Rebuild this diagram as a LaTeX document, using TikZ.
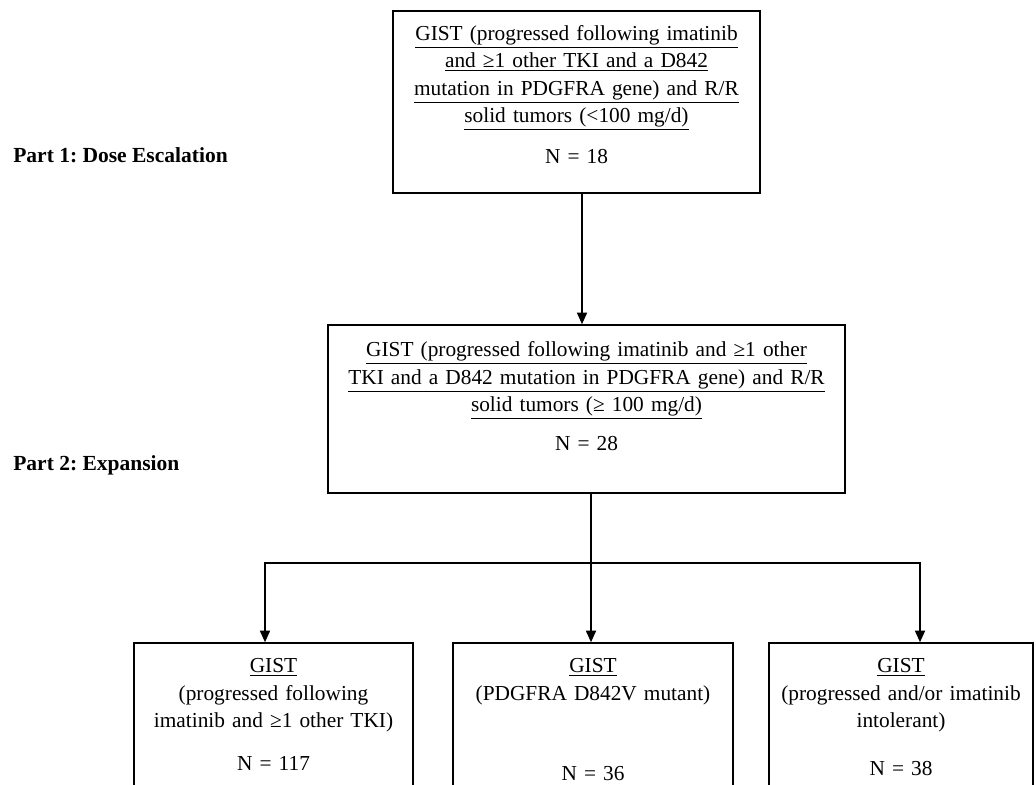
\documentclass[tikz,border=0pt]{standalone}
\usepackage{fontspec}
\setmainfont{Liberation Serif}
\usetikzlibrary{arrows.meta}
\tikzset{>=Stealth}
\frenchspacing

\begin{document}
\begin{tikzpicture}[
    x=0.6pt, y=-0.6pt,
    every node/.style={font=\fontsize{12.8pt}{16.5pt}\selectfont},
    panel/.style={draw, line width=0.9pt, inner sep=0pt},
    boxtext/.style={anchor=north, align=center, inner sep=0pt, text width=300pt},
    part/.style={anchor=west, inner sep=0pt, font=\fontsize{12.9pt}{14pt}\selectfont\bfseries},
    arrow/.style={line width=1.1pt, -{Triangle[width=6pt,length=7pt]}}
  ]
    \clip (0,0) rectangle (1036,784);

    % section labels
    \node[part] (partone) at (13,155) {Part 1: Dose Escalation};
    \node[part] (parttwo) at (13,465) {Part 2: Expansion};

    % boxes
    \node[panel, minimum width=220.2pt, minimum height=109.2pt] (doseesc) at (576.5,102) {};
    \node[panel, minimum width=310.2pt, minimum height=100.8pt] (expbox)  at (586.5,409) {};
    \node[panel, minimum width=167.4pt, minimum height=120pt]   (arma)    at (273.5,743) {};
    \node[panel, minimum width=168pt,   minimum height=120pt]   (armb)    at (593,743)   {};
    \node[panel, minimum width=158.4pt, minimum height=120pt]   (armc)    at (901,743)   {};

    % box texts
    \node[boxtext] (doseesctxt) at ([yshift=-8.7pt]doseesc.north)
      {\underline{GIST (progressed following imatinib}\\
       \underline{and ≥1 other TKI and a D842}\\
       \underline{mutation in PDGFRA gene) and R/R}\\
       \underline{solid tumors (<100 mg/d)}\\[8pt]
       N = 18};
    \node[boxtext] (expboxtxt) at ([yshift=-10.3pt]expbox.north)
      {\underline{GIST (progressed following imatinib and ≥1 other}\\
       \underline{TKI and a D842 mutation in PDGFRA gene) and R/R}\\
       \underline{solid tumors (≥ 100 mg/d)}\\[7pt]
       N = 28};
    \node[boxtext] (armatxt) at ([yshift=-9.5pt]arma.north)
      {\underline{GIST}\\
       (progressed following\\
       imatinib and ≥1 other TKI)\\[9.5pt]
       N = 117};
    \node[boxtext] (armbtxt) at ([yshift=-9.5pt]armb.north)
      {\underline{GIST}\\
       (PDGFRA D842V mutant)\\[31.5pt]
       N = 36};
    \node[boxtext] (armctxt) at ([yshift=-9.5pt]armc.north)
      {\underline{GIST}\\
       (progressed and/or imatinib\\
       intolerant)\\[12pt]
       N = 38};

    % connectors
    \coordinate (split) at (591,563);
    \draw[arrow] ([xshift=3.3pt]doseesc.south) -- ([xshift=3.3pt]doseesc.south |- expbox.north);
    \draw[line width=1.1pt] (split |- expbox.south) -- (split);
    \draw[arrow] (split) -| ([xshift=-5.1pt]arma.north);
    \draw[arrow] (split) -- (split |- armb.north);
    \draw[arrow] (split) -| ([xshift=11.4pt]armc.north);
  \end{tikzpicture}
\end{document}
